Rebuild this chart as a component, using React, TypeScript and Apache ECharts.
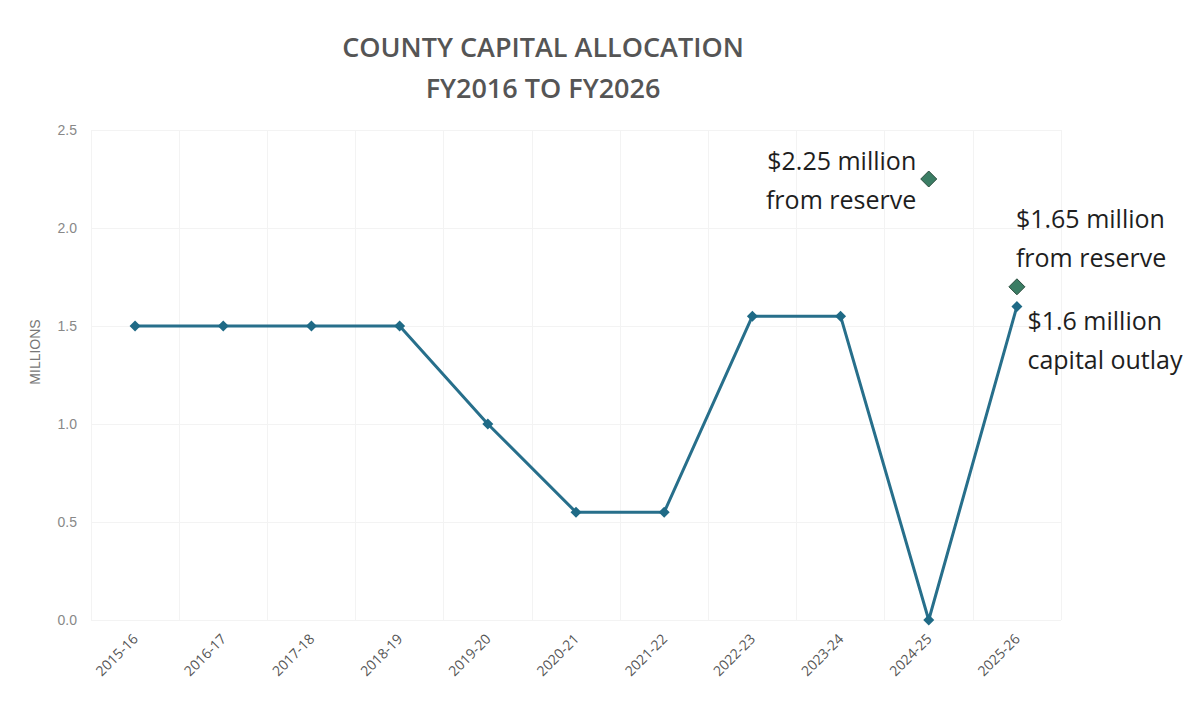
import React, { useEffect, useRef } from "react";
import * as echarts from "echarts";

const categories = ["2015-16", "2016-17", "2017-18", "2018-19", "2019-20", "2020-21", "2021-22", "2022-23", "2023-24", "2024-25", "2025-26"];
const capitalOutlay = [1.5, 1.5, 1.5, 1.5, 1.0, 0.55, 0.55, 1.55, 1.55, 0, 1.6];
const fromReserve = [null, null, null, null, null, null, null, null, null, 2.25, 1.7];
const reserveLabels = ["", "", "", "", "", "", "", "", "", "$2.25 million\nfrom reserve", "$1.65 million\nfrom reserve"];
const outlayLabel = "$1.6 million\ncapital outlay";
const yTicks = [0, 0.5, 1.0, 1.5, 2.0, 2.5];

export default function App() {
  const ref = useRef<HTMLDivElement>(null);
  useEffect(() => {
    const chart = echarts.init(ref.current!, null, { renderer: "svg" });
    const annFont = { fontFamily: "Open Sans", fontSize: 25, color: "#1e1e1e", lineHeight: 39 };
    chart.setOption({
      animation: false,
      backgroundColor: "#fff",
      title: {
        text: "COUNTY CAPITAL ALLOCATION\nFY2016 TO FY2026",
        left: 543,
        top: 26,
        padding: 0,
        textAlign: "center",
        textStyle: { fontFamily: "Open Sans", fontWeight: 600, fontSize: 27, color: "#555", lineHeight: 41 },
      },
      grid: { left: 91, right: 130, top: 130, bottom: 84 },
      xAxis: {
        type: "category",
        data: categories,
        boundaryGap: true,
        axisLine: { show: false },
        axisTick: { show: false },
        splitLine: { show: true, lineStyle: { color: "#f3f3f3", width: 1 } },
        axisLabel: { rotate: 45, margin: 16, fontFamily: "Open Sans", fontSize: 14, color: "#555", interval: 0 },
      },
      yAxis: {
        type: "value",
        min: 0,
        max: 2.5,
        interval: 0.5,
        name: "MILLIONS",
        nameLocation: "middle",
        nameGap: 49,
        nameTextStyle: { fontFamily: "Liberation Sans", fontSize: 14, color: "#777", padding: [0, 0, 0, 46] },
        axisLine: { show: false },
        axisTick: { show: false },
        splitLine: { show: true, lineStyle: { color: "#f3f3f3", width: 1 } },
        axisLabel: {
          margin: 14,
          fontFamily: "Liberation Sans",
          fontSize: 14,
          color: "#888",
          formatter: (v: number) => (yTicks.includes(v) ? v.toFixed(1) : ""),
        },
      },
      series: [
        {
          type: "line",
          data: capitalOutlay.map((v, i) =>
            i === capitalOutlay.length - 1
              ? {
                  value: v,
                  label: {
                    show: true,
                    formatter: outlayLabel,
                    position: [16, 0],
                    align: "left",
                    verticalAlign: "top",
                    ...annFont,
                  },
                }
              : v
          ),
          symbol: "diamond",
          symbolSize: 11,
          lineStyle: { color: "#276f8b", width: 3 },
          itemStyle: { color: "#1f6a86" },
          z: 3,
        },
        {
          type: "scatter",
          data: fromReserve.map((v, i) =>
            v === null
              ? null
              : {
                  value: v,
                  label: {
                    show: true,
                    formatter: reserveLabels[i],
                    ...(i === 9
                      ? { position: "left", distance: 4 }
                      : { position: "top", distance: 2, align: "left", offset: [-1, 0] }),
                    ...annFont,
                  },
                }
          ),
          symbol: "diamond",
          symbolSize: 16,
          itemStyle: { color: "#3b7d64", borderColor: "#2b4d3e", borderWidth: 1, opacity: 1 },
          z: 4,
        },
      ],
    });
    return () => chart.dispose();
  }, []);
  return <div ref={ref} style={{ position: "fixed", left: 0, top: 0, width: 1191, height: 704 }} />;
}
